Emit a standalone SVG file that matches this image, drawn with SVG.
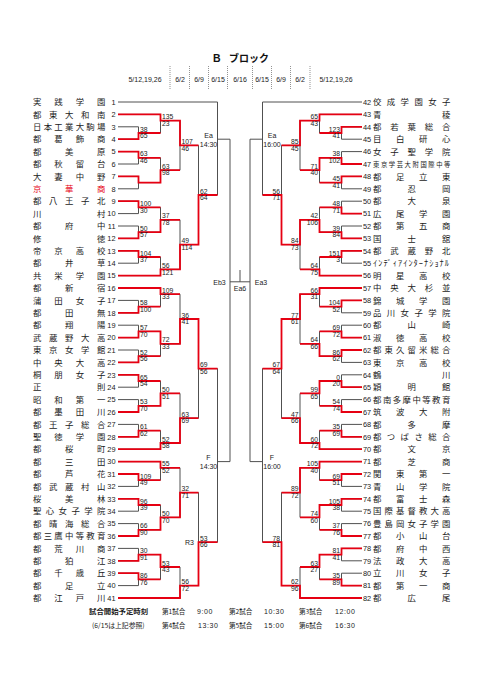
<svg xmlns="http://www.w3.org/2000/svg" width="481" height="680" viewBox="0 0 481 680">
<style>
.nm{font-family:"Noto Sans CJK JP","Noto Sans",sans-serif;font-size:8.4px;fill:#1a1a1a}
.rd{fill:#e60012}
.no{font-family:"Liberation Sans",Arial,sans-serif;font-size:7.4px;fill:#1a1a1a}
.nl{text-anchor:end}
.sc{font-family:"Liberation Sans",Arial,sans-serif;font-size:6.8px;fill:#1a1a1a}
.sr{text-anchor:end}
.lb{font-family:"Liberation Sans",Arial,sans-serif;font-size:7px;fill:#1a1a1a;text-anchor:middle}
.g{fill:none;stroke:#505050;stroke-width:1}
.r{fill:none;stroke:#e60012;stroke-width:1.8}
.sep{stroke:#777;stroke-width:0.8;stroke-dasharray:1 1}
.ft{font-family:"Noto Sans CJK JP",sans-serif;font-size:6.6px;fill:#1a1a1a}
.tm{font-family:"Liberation Sans",Arial,sans-serif;font-size:7px;fill:#1a1a1a;letter-spacing:0.6px}
</style>
<rect width="481" height="680" fill="#fff"/>
<g id="header">
<text x="213" y="62" font-family="Liberation Sans,Arial,sans-serif" font-weight="bold" font-size="10.5" fill="#111">B</text>
<text x="229" y="62" font-family="Noto Sans CJK JP,sans-serif" font-weight="bold" font-size="10" fill="#111">ブロック</text>
<g class="lb">
<text x="145" y="81.5">5/12,19,26</text>
<text x="180" y="81.5">6/2</text>
<text x="199" y="81.5">6/9</text>
<text x="218" y="81.5">6/15</text>
<text x="240" y="81.5">6/16</text>
<text x="262" y="81.5">6/15</text>
<text x="281" y="81.5">6/9</text>
<text x="300" y="81.5">6/2</text>
<text x="336" y="81.5">5/12,19,26</text>
</g>
<path class="sep" d="M170 66V89M189.5 66V89M208.5 66V89M227.5 66V89M252.5 66V89M271.5 66V89M290.5 66V89M310 66V89"/>
</g>
<g id="connectors">
<path class="g" d="M118 102H217.5M118 114.4H160.5M118 126.8H138.5M118 139.2H138.5M118 151.6H138.5M118 164H138.5M118 176.4H138.5M118 188.8H138.5M118 201.2H138.5M118 213.6H138.5M118 226H138.5M118 238.4H138.5M118 250.8H138.5M118 263.2H138.5M118 275.6H160.5M118 288H160.5M118 300.4H138.5M118 312.8H138.5M118 325.2H138.5M118 337.6H138.5M118 350H138.5M118 362.4H138.5M118 374.8H138.5M118 387.2H138.5M118 399.6H138.5M118 412H138.5M118 424.4H138.5M118 436.8H138.5M118 449.2H160.5M118 461.6H160.5M118 474H138.5M118 486.4H138.5M118 498.8H138.5M118 511.2H138.5M118 523.6H138.5M118 536H138.5M118 548.4H138.5M118 560.8H138.5M118 573.2H138.5M118 585.6H138.5M118 598H180"/>
<path class="g" d="M138.5 126.8V139.2M138.5 133H160.5M160.5 114.4V133M160.5 120.6H180M138.5 151.6V164M138.5 157.8H160.5M138.5 176.4V188.8M138.5 182.6H160.5M160.5 157.8V182.6M160.5 170.2H180M180 120.6V170.2M180 145.4H198.5M138.5 201.2V213.6M138.5 207.4H160.5M138.5 226V238.4M138.5 232.2H160.5M160.5 207.4V232.2M160.5 219.8H180M138.5 250.8V263.2M138.5 257H160.5M160.5 257V275.6M160.5 269.4H180M180 219.8V269.4M180 244.6H198.5M198.5 145.4V244.6M198.5 195H217.5M217.5 102V195M217.5 139.2H230M138.5 300.4V312.8M138.5 306.6H160.5M160.5 288V306.6M160.5 294.2H180M138.5 325.2V337.6M138.5 331.4H160.5M138.5 350V362.4M138.5 356.2H160.5M160.5 331.4V356.2M160.5 343.8H180M180 294.2V343.8M180 319H198.5M138.5 374.8V387.2M138.5 381H160.5M138.5 399.6V412M138.5 405.8H160.5M160.5 381V405.8M160.5 393.4H180M138.5 424.4V436.8M138.5 430.6H160.5M160.5 430.6V449.2M160.5 443H180M180 393.4V443M180 418.2H198.5M198.5 319V418.2M198.5 368.6H217.5M138.5 474V486.4M138.5 480.2H160.5M160.5 461.6V480.2M160.5 467.8H180M138.5 498.8V511.2M138.5 505H160.5M138.5 523.6V536M138.5 529.8H160.5M160.5 505V529.8M160.5 517.4H180M180 467.8V517.4M180 492.6H198.5M138.5 548.4V560.8M138.5 554.6H160.5M138.5 573.2V585.6M138.5 579.4H160.5M160.5 554.6V579.4M160.5 567H180M180 567V598M180 585.6H198.5M198.5 492.6V585.6M198.5 542.2H217.5M217.5 368.6V542.2M217.5 461.6H230M230 139.2V461.6M230 281.8H250M240 270V281.8"/>
<path class="g" d="M362 102H262.5M362 114.4H319.5M362 126.8H341.5M362 139.2H341.5M362 151.6H341.5M362 164H341.5M362 176.4H341.5M362 188.8H341.5M362 201.2H341.5M362 213.6H341.5M362 226H341.5M362 238.4H341.5M362 250.8H341.5M362 263.2H341.5M362 275.6H319.5M362 288H319.5M362 300.4H341.5M362 312.8H341.5M362 325.2H341.5M362 337.6H341.5M362 350H341.5M362 362.4H341.5M362 374.8H341.5M362 387.2H341.5M362 399.6H341.5M362 412H341.5M362 424.4H341.5M362 436.8H341.5M362 449.2H319.5M362 461.6H319.5M362 474H341.5M362 486.4H341.5M362 498.8H341.5M362 511.2H341.5M362 523.6H341.5M362 536H341.5M362 548.4H341.5M362 560.8H341.5M362 573.2H341.5M362 585.6H341.5M362 598H300"/>
<path class="g" d="M341.5 126.8V139.2M341.5 133H319.5M319.5 114.4V133M319.5 120.6H300M341.5 151.6V164M341.5 157.8H319.5M341.5 176.4V188.8M341.5 182.6H319.5M319.5 157.8V182.6M319.5 170.2H300M300 120.6V170.2M300 145.4H281.5M341.5 201.2V213.6M341.5 207.4H319.5M341.5 226V238.4M341.5 232.2H319.5M319.5 207.4V232.2M319.5 219.8H300M341.5 250.8V263.2M341.5 257H319.5M319.5 257V275.6M319.5 269.4H300M300 219.8V269.4M300 244.6H281.5M281.5 145.4V244.6M281.5 195H262.5M262.5 102V195M262.5 139.2H250M341.5 300.4V312.8M341.5 306.6H319.5M319.5 288V306.6M319.5 294.2H300M341.5 325.2V337.6M341.5 331.4H319.5M341.5 350V362.4M341.5 356.2H319.5M319.5 331.4V356.2M319.5 343.8H300M300 294.2V343.8M300 319H281.5M341.5 374.8V387.2M341.5 381H319.5M341.5 399.6V412M341.5 405.8H319.5M319.5 381V405.8M319.5 393.4H300M341.5 424.4V436.8M341.5 430.6H319.5M319.5 430.6V449.2M319.5 443H300M300 393.4V443M300 418.2H281.5M281.5 319V418.2M281.5 368.6H262.5M341.5 474V486.4M341.5 480.2H319.5M319.5 461.6V480.2M319.5 467.8H300M341.5 498.8V511.2M341.5 505H319.5M341.5 523.6V536M341.5 529.8H319.5M319.5 505V529.8M319.5 517.4H300M300 467.8V517.4M300 492.6H281.5M341.5 548.4V560.8M341.5 554.6H319.5M341.5 573.2V585.6M341.5 579.4H319.5M319.5 554.6V579.4M319.5 567H300M300 567V598M300 585.6H281.5M281.5 492.6V585.6M281.5 542.2H262.5M262.5 368.6V542.2M262.5 461.6H250M250 139.2V461.6"/>
<path class="r" d="M118 114.4H160.5V120.6H180V145.4H198.5M118 139.2H138.5V133H160.5M118 151.6H138.5V157.8H160.5M118 176.4H138.5V182.6H160.5V170.2H180M118 201.2H138.5V207.4H160.5M118 238.4H138.5V232.2H160.5V219.8H180M118 250.8H138.5V257H160.5M118 275.6H160.5V269.4H180V244.6H198.5V195H217.5M118 288H160.5V294.2H180M118 312.8H138.5V306.6H160.5M118 337.6H138.5V331.4H160.5V343.8H180V319H198.5V368.6H217.5M118 362.4H138.5V356.2H160.5M118 374.8H138.5V381H160.5M118 412H138.5V405.8H160.5V393.4H180M118 436.8H138.5V430.6H160.5M118 449.2H160.5V443H180V418.2H198.5M118 461.6H160.5V467.8H180M118 474H138.5V480.2H160.5M118 498.8H138.5V505H160.5M118 536H138.5V529.8H160.5V517.4H180V492.6H198.5M118 560.8H138.5V554.6H160.5V567H180M118 573.2H138.5V579.4H160.5M118 598H180V585.6H198.5V542.2H217.5"/>
<path class="r" d="M362 114.4H319.5V120.6H300V145.4H281.5M362 126.8H341.5V133H319.5M362 164H341.5V157.8H319.5V170.2H300M362 176.4H341.5V182.6H319.5M362 213.6H341.5V207.4H319.5M362 238.4H341.5V232.2H319.5V219.8H300V244.6H281.5V195H262.5M362 250.8H341.5V257H319.5M362 275.6H319.5V269.4H300M362 288H319.5V294.2H300V319H281.5V368.6H262.5M362 300.4H341.5V306.6H319.5M362 337.6H341.5V331.4H319.5M362 350H341.5V356.2H319.5V343.8H300M362 387.2H341.5V381H319.5V393.4H300M362 412H341.5V405.8H319.5M362 436.8H341.5V430.6H319.5M362 449.2H319.5V443H300V418.2H281.5M362 461.6H319.5V467.8H300V492.6H281.5M362 474H341.5V480.2H319.5M362 498.8H341.5V505H319.5V517.4H300M362 536H341.5V529.8H319.5M362 548.4H341.5V554.6H319.5V567H300M362 585.6H341.5V579.4H319.5M362 598H300V585.6H281.5V542.2H262.5"/>
</g>
<g id="scores-left" class="sc">
<text x="140" y="131.5">38<tspan x="140" dy="6.7">65</tspan></text>
<text x="162" y="119.1">135<tspan x="162" dy="6.7">23</tspan></text>
<text x="140" y="156.3">63<tspan x="140" dy="6.7">46</tspan></text>
<text x="162" y="168.7">63<tspan x="162" dy="6.7">98</tspan></text>
<text x="181.5" y="143.9">107<tspan x="181.5" dy="6.7">46</tspan></text>
<text x="140" y="205.9">100<tspan x="140" dy="6.7">30</tspan></text>
<text x="140" y="230.7">50<tspan x="140" dy="6.7">57</tspan></text>
<text x="162" y="218.3">37<tspan x="162" dy="6.7">78</tspan></text>
<text x="140" y="255.5">104<tspan x="140" dy="6.7">37</tspan></text>
<text x="162" y="267.9">56<tspan x="162" dy="6.7">121</tspan></text>
<text x="181.5" y="243.1">49<tspan x="181.5" dy="6.7">114</tspan></text>
<text x="200" y="193.5">62<tspan x="200" dy="6.7">64</tspan></text>
<text x="140" y="305.1">58<tspan x="140" dy="6.7">100</tspan></text>
<text x="162" y="292.7">109<tspan x="162" dy="6.7">33</tspan></text>
<text x="140" y="329.9">57<tspan x="140" dy="6.7">70</tspan></text>
<text x="140" y="354.7">52<tspan x="140" dy="6.7">56</tspan></text>
<text x="162" y="342.3">72<tspan x="162" dy="6.7">33</tspan></text>
<text x="181.5" y="317.5">36<tspan x="181.5" dy="6.7">41</tspan></text>
<text x="140" y="379.5">65<tspan x="140" dy="6.7">54</tspan></text>
<text x="140" y="404.3">53<tspan x="140" dy="6.7">70</tspan></text>
<text x="162" y="391.9">50<tspan x="162" dy="6.7">51</tspan></text>
<text x="140" y="429.1">61<tspan x="140" dy="6.7">62</tspan></text>
<text x="162" y="441.5">52<tspan x="162" dy="6.7">58</tspan></text>
<text x="181.5" y="416.7">63<tspan x="181.5" dy="6.7">69</tspan></text>
<text x="200" y="367.1">69<tspan x="200" dy="6.7">56</tspan></text>
<text x="140" y="478.7">109<tspan x="140" dy="6.7">49</tspan></text>
<text x="162" y="466.3">55<tspan x="162" dy="6.7">52</tspan></text>
<text x="140" y="503.5">96<tspan x="140" dy="6.7">39</tspan></text>
<text x="140" y="528.3">66<tspan x="140" dy="6.7">90</tspan></text>
<text x="162" y="515.9">50<tspan x="162" dy="6.7">70</tspan></text>
<text x="181.5" y="491.1">32<tspan x="181.5" dy="6.7">71</tspan></text>
<text x="140" y="553.1">30<tspan x="140" dy="6.7">91</tspan></text>
<text x="140" y="577.9">86<tspan x="140" dy="6.7">76</tspan></text>
<text x="162" y="565.5">53<tspan x="162" dy="6.7">43</tspan></text>
<text x="181.5" y="584.1">56<tspan x="181.5" dy="6.7">72</tspan></text>
<text x="200" y="540.7">53<tspan x="200" dy="6.7">66</tspan></text>
</g>
<g id="scores-right" class="sc sr">
<text x="340" y="131.5">123<tspan x="340" dy="6.7">41</tspan></text>
<text x="318" y="119.1">65<tspan x="318" dy="6.7">43</tspan></text>
<text x="340" y="156.3">38<tspan x="340" dy="6.7">102</tspan></text>
<text x="340" y="181.1">45<tspan x="340" dy="6.7">41</tspan></text>
<text x="318" y="168.7">71<tspan x="318" dy="6.7">40</tspan></text>
<text x="298.5" y="143.9">85<tspan x="298.5" dy="6.7">45</tspan></text>
<text x="340" y="205.9">48<tspan x="340" dy="6.7">71</tspan></text>
<text x="340" y="230.7">39<tspan x="340" dy="6.7">84</tspan></text>
<text x="318" y="218.3">42<tspan x="318" dy="6.7">106</tspan></text>
<text x="340" y="255.5">151<tspan x="340" dy="6.7">3</tspan></text>
<text x="318" y="267.9">64<tspan x="318" dy="6.7">75</tspan></text>
<text x="298.5" y="243.1">84<tspan x="298.5" dy="6.7">73</tspan></text>
<text x="280" y="193.5">56<tspan x="280" dy="6.7">71</tspan></text>
<text x="340" y="305.1">104<tspan x="340" dy="6.7">52</tspan></text>
<text x="318" y="292.7">66<tspan x="318" dy="6.7">31</tspan></text>
<text x="340" y="329.9">69<tspan x="340" dy="6.7">72</tspan></text>
<text x="340" y="354.7">86<tspan x="340" dy="6.7">62</tspan></text>
<text x="318" y="342.3">64<tspan x="318" dy="6.7">66</tspan></text>
<text x="298.5" y="317.5">77<tspan x="298.5" dy="6.7">61</tspan></text>
<text x="340" y="379.5">0<tspan x="340" dy="6.7">20</tspan></text>
<text x="340" y="404.3">54<tspan x="340" dy="6.7">74</tspan></text>
<text x="318" y="391.9">99<tspan x="318" dy="6.7">65</tspan></text>
<text x="340" y="429.1">35<tspan x="340" dy="6.7">69</tspan></text>
<text x="318" y="441.5">60<tspan x="318" dy="6.7">72</tspan></text>
<text x="298.5" y="416.7">47<tspan x="298.5" dy="6.7">66</tspan></text>
<text x="280" y="367.1">67<tspan x="280" dy="6.7">64</tspan></text>
<text x="340" y="478.7">69<tspan x="340" dy="6.7">51</tspan></text>
<text x="318" y="466.3">105<tspan x="318" dy="6.7">40</tspan></text>
<text x="340" y="503.5">105<tspan x="340" dy="6.7">38</tspan></text>
<text x="340" y="528.3">37<tspan x="340" dy="6.7">76</tspan></text>
<text x="318" y="515.9">74<tspan x="318" dy="6.7">60</tspan></text>
<text x="298.5" y="491.1">89<tspan x="298.5" dy="6.7">72</tspan></text>
<text x="340" y="553.1">81<tspan x="340" dy="6.7">41</tspan></text>
<text x="340" y="577.9">35<tspan x="340" dy="6.7">89</tspan></text>
<text x="318" y="565.5">63<tspan x="318" dy="6.7">27</tspan></text>
<text x="298.5" y="584.1">62<tspan x="298.5" dy="6.7">96</tspan></text>
<text x="280" y="540.7">78<tspan x="280" dy="6.7">81</tspan></text>
</g>
<g id="match-labels" class="lb">
<text x="208.5" y="137.5">Ea</text><text x="208.5" y="146.5">14:30</text>
<text x="272" y="137.5">Ea</text><text x="272" y="146.5">16:00</text>
<text x="208.5" y="459.5">F</text><text x="208.5" y="469">14:30</text>
<text x="272" y="459.5">F</text><text x="272" y="469">16:00</text>
<text x="189.5" y="544.5">R3</text>
<text x="219.5" y="284.5">Eb3</text>
<text x="240" y="291">Ea6</text>
<text x="261" y="284.5">Ea3</text>
</g>
<g id="teams-left">
<g id="t1" transform="translate(0 102)"><text class="nm" x="33 54.3 75.7 97" y="3.1">実践学園</text><text class="no nl" x="115.5" y="2.7">1</text></g>
<g id="t2" transform="translate(0 114.4)"><text class="nm" x="33 49 65 81 97" y="3.1">都東大和南</text><text class="no nl" x="115.5" y="2.7">2</text></g>
<g id="t3" transform="translate(0 126.8)"><text class="nm" x="33 43.7 54.3 65 75.7 86.3 97" y="3.1">日本工業大駒場</text><text class="no nl" x="115.5" y="2.7">3</text></g>
<g id="t4" transform="translate(0 139.2)"><text class="nm" x="33 54.3 75.7 97" y="3.1">都葛飾商</text><text class="no nl" x="115.5" y="2.7">4</text></g>
<g id="t5" transform="translate(0 151.6)"><text class="nm" x="33 65 97" y="3.1">都美原</text><text class="no nl" x="115.5" y="2.7">5</text></g>
<g id="t6" transform="translate(0 164)"><text class="nm" x="33 54.3 75.7 97" y="3.1">都秋留台</text><text class="no nl" x="115.5" y="2.7">6</text></g>
<g id="t7" transform="translate(0 176.4)"><text class="nm" x="33 54.3 75.7 97" y="3.1">大妻中野</text><text class="no nl" x="115.5" y="2.7">7</text></g>
<g id="t8" transform="translate(0 188.8)"><text class="nm rd" x="33 65 97" y="3.1">京華商</text><text class="no nl" x="115.5" y="2.7">8</text></g>
<g id="t9" transform="translate(0 201.2)"><text class="nm" x="33 49 65 81 97" y="3.1">都八王子北</text><text class="no nl" x="115.5" y="2.7">9</text></g>
<g id="t10" transform="translate(0 213.6)"><text class="nm" x="33 97" y="3.1">川村</text><text class="no nl" x="115.5" y="2.7">10</text></g>
<g id="t11" transform="translate(0 226)"><text class="nm" x="33 65 97" y="3.1">都府中</text><text class="no nl" x="115.5" y="2.7">11</text></g>
<g id="t12" transform="translate(0 238.4)"><text class="nm" x="33 97" y="3.1">修徳</text><text class="no nl" x="115.5" y="2.7">12</text></g>
<g id="t13" transform="translate(0 250.8)"><text class="nm" x="33 54.3 75.7 97" y="3.1">帝京高校</text><text class="no nl" x="115.5" y="2.7">13</text></g>
<g id="t14" transform="translate(0 263.2)"><text class="nm" x="33 65 97" y="3.1">都井草</text><text class="no nl" x="115.5" y="2.7">14</text></g>
<g id="t15" transform="translate(0 275.6)"><text class="nm" x="33 54.3 75.7 97" y="3.1">共栄学園</text><text class="no nl" x="115.5" y="2.7">15</text></g>
<g id="t16" transform="translate(0 288)"><text class="nm" x="33 65 97" y="3.1">都新宿</text><text class="no nl" x="115.5" y="2.7">16</text></g>
<g id="t17" transform="translate(0 300.4)"><text class="nm" x="33 54.3 75.7 97" y="3.1">蒲田女子</text><text class="no nl" x="115.5" y="2.7">17</text></g>
<g id="t18" transform="translate(0 312.8)"><text class="nm" x="33 65 97" y="3.1">都田無</text><text class="no nl" x="115.5" y="2.7">18</text></g>
<g id="t19" transform="translate(0 325.2)"><text class="nm" x="33 65 97" y="3.1">都翔陽</text><text class="no nl" x="115.5" y="2.7">19</text></g>
<g id="t20" transform="translate(0 337.6)"><text class="nm" x="33 49 65 81 97" y="3.1">武蔵野大高</text><text class="no nl" x="115.5" y="2.7">20</text></g>
<g id="t21" transform="translate(0 350)"><text class="nm" x="33 49 65 81 97" y="3.1">東京女学館</text><text class="no nl" x="115.5" y="2.7">21</text></g>
<g id="t22" transform="translate(0 362.4)"><text class="nm" x="33 54.3 75.7 97" y="3.1">中央大高</text><text class="no nl" x="115.5" y="2.7">22</text></g>
<g id="t23" transform="translate(0 374.8)"><text class="nm" x="33 54.3 75.7 97" y="3.1">桐朋女子</text><text class="no nl" x="115.5" y="2.7">23</text></g>
<g id="t24" transform="translate(0 387.2)"><text class="nm" x="33 97" y="3.1">正則</text><text class="no nl" x="115.5" y="2.7">24</text></g>
<g id="t25" transform="translate(0 399.6)"><text class="nm" x="33 54.3 75.7 97" y="3.1">昭和第一</text><text class="no nl" x="115.5" y="2.7">25</text></g>
<g id="t26" transform="translate(0 412)"><text class="nm" x="33 54.3 75.7 97" y="3.1">都墨田川</text><text class="no nl" x="115.5" y="2.7">26</text></g>
<g id="t27" transform="translate(0 424.4)"><text class="nm" x="33 49 65 81 97" y="3.1">都王子総合</text><text class="no nl" x="115.5" y="2.7">27</text></g>
<g id="t28" transform="translate(0 436.8)"><text class="nm" x="33 54.3 75.7 97" y="3.1">聖徳学園</text><text class="no nl" x="115.5" y="2.7">28</text></g>
<g id="t29" transform="translate(0 449.2)"><text class="nm" x="33 65 97" y="3.1">都桜町</text><text class="no nl" x="115.5" y="2.7">29</text></g>
<g id="t30" transform="translate(0 461.6)"><text class="nm" x="33 65 97" y="3.1">都三田</text><text class="no nl" x="115.5" y="2.7">30</text></g>
<g id="t31" transform="translate(0 474)"><text class="nm" x="33 65 97" y="3.1">都芦花</text><text class="no nl" x="115.5" y="2.7">31</text></g>
<g id="t32" transform="translate(0 486.4)"><text class="nm" x="33 49 65 81 97" y="3.1">都武蔵村山</text><text class="no nl" x="115.5" y="2.7">32</text></g>
<g id="t33" transform="translate(0 498.8)"><text class="nm" x="33 65 97" y="3.1">桜美林</text><text class="no nl" x="115.5" y="2.7">33</text></g>
<g id="t34" transform="translate(0 511.2)"><text class="nm" x="33 45.8 58.6 71.4 84.2 97" y="3.1">聖心女子学院</text><text class="no nl" x="115.5" y="2.7">34</text></g>
<g id="t35" transform="translate(0 523.6)"><text class="nm" x="33 49 65 81 97" y="3.1">都晴海総合</text><text class="no nl" x="115.5" y="2.7">35</text></g>
<g id="t36" transform="translate(0 536)"><text class="nm" x="33 43.7 54.3 65 75.7 86.3 97" y="3.1">都三鷹中等教育</text><text class="no nl" x="115.5" y="2.7">36</text></g>
<g id="t37" transform="translate(0 548.4)"><text class="nm" x="33 54.3 75.7 97" y="3.1">都荒川商</text><text class="no nl" x="115.5" y="2.7">37</text></g>
<g id="t38" transform="translate(0 560.8)"><text class="nm" x="33 65 97" y="3.1">都狛江</text><text class="no nl" x="115.5" y="2.7">38</text></g>
<g id="t39" transform="translate(0 573.2)"><text class="nm" x="33 54.3 75.7 97" y="3.1">都千歳丘</text><text class="no nl" x="115.5" y="2.7">39</text></g>
<g id="t40" transform="translate(0 585.6)"><text class="nm" x="33 65 97" y="3.1">都足立</text><text class="no nl" x="115.5" y="2.7">40</text></g>
<g id="t41" transform="translate(0 598)"><text class="nm" x="33 54.3 75.7 97" y="3.1">都江戸川</text><text class="no nl" x="115.5" y="2.7">41</text></g>
</g>
<g id="teams-right">
<g id="t42" transform="translate(0 102)"><text class="no" x="363" y="2.7">42</text><text class="nm" x="373 386.8 400.6 414.4 428.2 442" y="3.1">佼成学園女子</text></g>
<g id="t43" transform="translate(0 114.4)"><text class="no" x="363" y="2.7">43</text><text class="nm" x="373 442" y="3.1">青稜</text></g>
<g id="t44" transform="translate(0 126.8)"><text class="no" x="363" y="2.7">44</text><text class="nm" x="373 390.3 407.5 424.8 442" y="3.1">都若葉総合</text></g>
<g id="t45" transform="translate(0 139.2)"><text class="no" x="363" y="2.7">45</text><text class="nm" x="373 396 419 442" y="3.1">目白研心</text></g>
<g id="t46" transform="translate(0 151.6)"><text class="no" x="363" y="2.7">46</text><text class="nm" x="373 390.3 407.5 424.8 442" y="3.1">女子聖学院</text></g>
<g id="t47" transform="translate(0 164)"><text class="no" x="363" y="2.7">47</text><text class="nm" style="font-size:6.3px" x="373 380.9 388.8 396.7 404.6 412.5 420.4 428.3 436.2 444.1" y="2.6">東京学芸大附国際中等</text></g>
<g id="t48" transform="translate(0 176.4)"><text class="no" x="363" y="2.7">48</text><text class="nm" x="373 396 419 442" y="3.1">都足立東</text></g>
<g id="t49" transform="translate(0 188.8)"><text class="no" x="363" y="2.7">49</text><text class="nm" x="373 407.5 442" y="3.1">都忍岡</text></g>
<g id="t50" transform="translate(0 201.2)"><text class="no" x="363" y="2.7">50</text><text class="nm" x="373 407.5 442" y="3.1">都大泉</text></g>
<g id="t51" transform="translate(0 213.6)"><text class="no" x="363" y="2.7">51</text><text class="nm" x="373 396 419 442" y="3.1">広尾学園</text></g>
<g id="t52" transform="translate(0 226)"><text class="no" x="363" y="2.7">52</text><text class="nm" x="373 396 419 442" y="3.1">都第五商</text></g>
<g id="t53" transform="translate(0 238.4)"><text class="no" x="363" y="2.7">53</text><text class="nm" x="373 407.5 442" y="3.1">国士舘</text></g>
<g id="t54" transform="translate(0 250.8)"><text class="no" x="363" y="2.7">54</text><text class="nm" x="373 390.3 407.5 424.8 442" y="3.1">都武蔵野北</text></g>
<g id="t55" transform="translate(0 263.2)"><text class="no" x="363" y="2.7">55</text><text class="nm" x="373" y="3.1" textLength="76" lengthAdjust="spacing">ｲﾝﾃﾞｨｱｲﾝﾀｰﾅｼｮﾅﾙ</text></g>
<g id="t56" transform="translate(0 275.6)"><text class="no" x="363" y="2.7">56</text><text class="nm" x="373 396 419 442" y="3.1">明星高校</text></g>
<g id="t57" transform="translate(0 288)"><text class="no" x="363" y="2.7">57</text><text class="nm" x="373 390.3 407.5 424.8 442" y="3.1">中央大杉並</text></g>
<g id="t58" transform="translate(0 300.4)"><text class="no" x="363" y="2.7">58</text><text class="nm" x="373 396 419 442" y="3.1">錦城学園</text></g>
<g id="t59" transform="translate(0 312.8)"><text class="no" x="363" y="2.7">59</text><text class="nm" x="373 386.8 400.6 414.4 428.2 442" y="3.1">品川女子学院</text></g>
<g id="t60" transform="translate(0 325.2)"><text class="no" x="363" y="2.7">60</text><text class="nm" x="373 407.5 442" y="3.1">都山崎</text></g>
<g id="t61" transform="translate(0 337.6)"><text class="no" x="363" y="2.7">61</text><text class="nm" x="373 396 419 442" y="3.1">淑徳高校</text></g>
<g id="t62" transform="translate(0 350)"><text class="no" x="363" y="2.7">62</text><text class="nm" x="373 384.5 396 407.5 419 430.5 442" y="3.1">都東久留米総合</text></g>
<g id="t63" transform="translate(0 362.4)"><text class="no" x="363" y="2.7">63</text><text class="nm" x="373 396 419 442" y="3.1">東京高校</text></g>
<g id="t64" transform="translate(0 374.8)"><text class="no" x="363" y="2.7">64</text><text class="nm" x="373 442" y="3.1">鶴川</text></g>
<g id="t65" transform="translate(0 387.2)"><text class="no" x="363" y="2.7">65</text><text class="nm" x="373 407.5 442" y="3.1">穎明館</text></g>
<g id="t66" transform="translate(0 399.6)"><text class="no" x="363" y="2.7">66</text><text class="nm" x="373 382.9 392.7 402.6 412.4 422.3 432.1 442" y="3.1">都南多摩中等教育</text></g>
<g id="t67" transform="translate(0 412)"><text class="no" x="363" y="2.7">67</text><text class="nm" x="373 396 419 442" y="3.1">筑波大附</text></g>
<g id="t68" transform="translate(0 424.4)"><text class="no" x="363" y="2.7">68</text><text class="nm" x="373 407.5 442" y="3.1">都多摩</text></g>
<g id="t69" transform="translate(0 436.8)"><text class="no" x="363" y="2.7">69</text><text class="nm" x="373 386.8 400.6 414.4 428.2 442" y="3.1">都つばさ総合</text></g>
<g id="t70" transform="translate(0 449.2)"><text class="no" x="363" y="2.7">70</text><text class="nm" x="373 407.5 442" y="3.1">都文京</text></g>
<g id="t71" transform="translate(0 461.6)"><text class="no" x="363" y="2.7">71</text><text class="nm" x="373 407.5 442" y="3.1">都芝商</text></g>
<g id="t72" transform="translate(0 474)"><text class="no" x="363" y="2.7">72</text><text class="nm" x="373 396 419 442" y="3.1">関東第一</text></g>
<g id="t73" transform="translate(0 486.4)"><text class="no" x="363" y="2.7">73</text><text class="nm" x="373 396 419 442" y="3.1">青山学院</text></g>
<g id="t74" transform="translate(0 498.8)"><text class="no" x="363" y="2.7">74</text><text class="nm" x="373 396 419 442" y="3.1">都富士森</text></g>
<g id="t75" transform="translate(0 511.2)"><text class="no" x="363" y="2.7">75</text><text class="nm" x="373 384.5 396 407.5 419 430.5 442" y="3.1">国際基督教大高</text></g>
<g id="t76" transform="translate(0 523.6)"><text class="no" x="363" y="2.7">76</text><text class="nm" x="373 384.5 396 407.5 419 430.5 442" y="3.1">豊島岡女子学園</text></g>
<g id="t77" transform="translate(0 536)"><text class="no" x="363" y="2.7">77</text><text class="nm" x="373 396 419 442" y="3.1">都小山台</text></g>
<g id="t78" transform="translate(0 548.4)"><text class="no" x="363" y="2.7">78</text><text class="nm" x="373 396 419 442" y="3.1">都府中西</text></g>
<g id="t79" transform="translate(0 560.8)"><text class="no" x="363" y="2.7">79</text><text class="nm" x="373 396 419 442" y="3.1">法政大高</text></g>
<g id="t80" transform="translate(0 573.2)"><text class="no" x="363" y="2.7">80</text><text class="nm" x="373 396 419 442" y="3.1">立川女子</text></g>
<g id="t81" transform="translate(0 585.6)"><text class="no" x="363" y="2.7">81</text><text class="nm" x="373 396 419 442" y="3.1">都第一商</text></g>
<g id="t82" transform="translate(0 598)"><text class="no" x="363" y="2.7">82</text><text class="nm" x="373 407.5 442" y="3.1">都広尾</text></g>
</g>
<g id="footer">
<text class="ft" x="89" y="613.5" font-weight="bold" style="font-size:7.4px">試合開始予定時刻</text>
<text class="ft" x="162" y="613.5">第1試合</text><text class="tm" x="197" y="613.5">9:00</text>
<text class="ft" x="229" y="613.5">第2試合</text><text class="tm" x="264" y="613.5">10:30</text>
<text class="ft" x="299" y="613.5">第3試合</text><text class="tm" x="335" y="613.5">12:00</text>
<text class="ft" x="92" y="627.5" style="font-size:6.8px">(6/15は上記参照)</text>
<text class="ft" x="162" y="627.5">第4試合</text><text class="tm" x="198" y="627.5">13:30</text>
<text class="ft" x="229" y="627.5">第5試合</text><text class="tm" x="264" y="627.5">15:00</text>
<text class="ft" x="299" y="627.5">第6試合</text><text class="tm" x="335" y="627.5">16:30</text>
</g>
</svg>
